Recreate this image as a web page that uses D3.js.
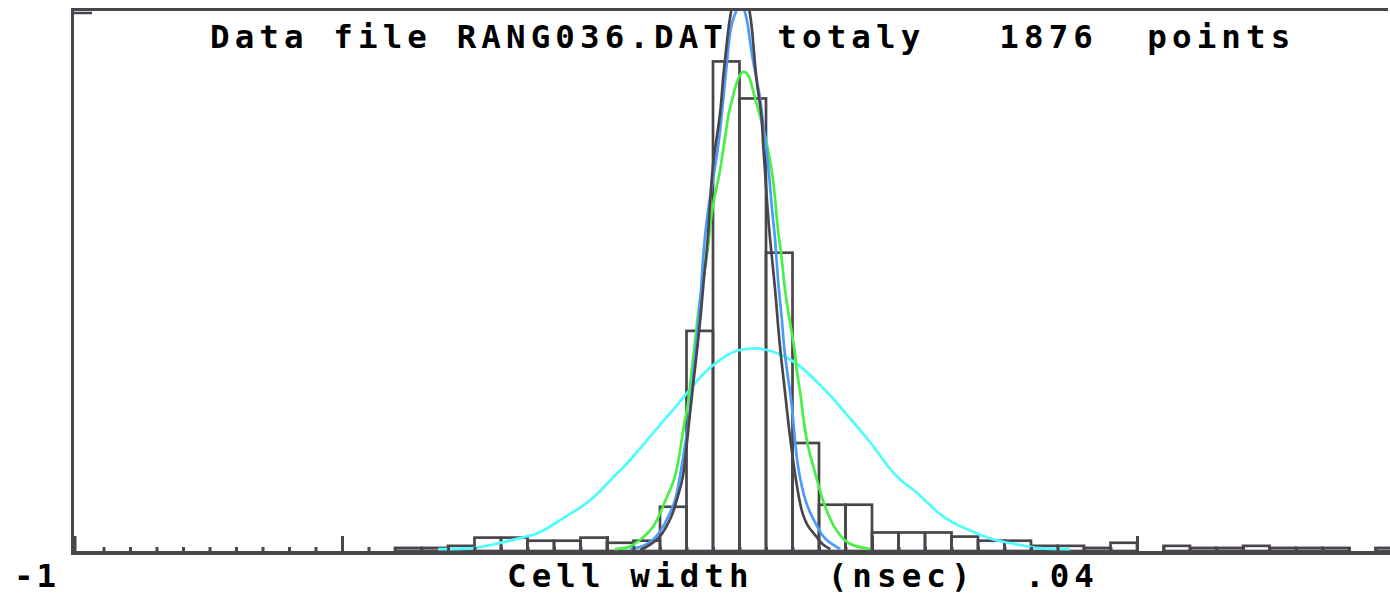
<!DOCTYPE html>
<html>
<head>
<meta charset="utf-8">
<script src="https://cdn.jsdelivr.net/npm/d3@7"></script>
<style>
  body { margin: 0; background: #fff; }
  text { font-family: "DejaVu Sans Mono", monospace; font-weight: bold; white-space: pre; }
</style>
</head>
<body>
<div id="chart"></div>
<script>
/* global d3 */

const W = 1390
const H = 595

// histogram: 50 bins of .04 nsec starting at -1
const binStart = -1
const binWidth = 0.04
const counts = [
  0, 0, 0, 0, 0, 0, 0, 0, 0, 0,
  0, 0, 3, 3, 5, 13, 13, 10, 10, 13,
  8, 10, 43, 214, 476, 440, 290, 105, 45, 45,
  18, 18, 18, 14, 10, 10, 5, 5, 3, 8,
  0, 5, 3, 3, 5, 3, 3, 3, 0, 3
]

const titleText = 'Data file RANG036.DAT  totaly   1876  points'
const axisText = 'Cell width   (nsec)  .04'
const minLabel = '-1'

// fitted curves, [nsec, count]
const curveCyan = [
  [-0.455, 1.9], [-0.399, 1.9], [-0.362, 7.8], [-0.331, 12.6], [-0.310, 15.6],
  [-0.297, 19.4], [-0.275, 28.2], [-0.254, 36.9], [-0.233, 44.7], [-0.211, 57.4],
  [-0.192, 71.0], [-0.176, 80.7], [-0.161, 91.4], [-0.143, 105.0], [-0.123, 120.6],
  [-0.100, 137.1], [-0.079, 153.6], [-0.063, 166.3], [-0.049, 176.0], [-0.034, 183.8],
  [-0.019, 190.6], [-0.004, 195.4], [0.020, 197.4], [0.038, 196.4], [0.057, 192.5],
  [0.076, 186.7], [0.096, 177.9], [0.117, 164.3], [0.140, 149.7], [0.162, 132.2],
  [0.189, 112.8], [0.212, 93.3], [0.224, 81.7], [0.245, 67.1], [0.260, 61.3],
  [0.280, 49.6], [0.298, 37.9], [0.313, 31.1], [0.328, 25.3], [0.343, 21.4],
  [0.363, 15.6], [0.388, 9.7], [0.419, 6.8], [0.449, 1.9], [0.499, 1.9]
]

const curveGreen = [
  [-0.188, 1.9], [-0.168, 2.9], [-0.161, 5.8], [-0.146, 12.6], [-0.135, 19.4],
  [-0.125, 28.2], [-0.115, 44.7], [-0.106, 57.4], [-0.097, 71.0], [-0.090, 95.3],
  [-0.084, 122.5], [-0.079, 137.1], [-0.075, 156.5], [-0.072, 177.9], [-0.067, 203.2],
  [-0.063, 229.5], [-0.057, 256.7], [-0.049, 284.9], [-0.045, 312.1], [-0.040, 338.4],
  [-0.034, 354.9], [-0.029, 370.4], [-0.025, 388.9], [-0.020, 408.4], [-0.017, 424.9],
  [-0.011, 438.5], [-0.007, 450.2], [-0.002, 459.9], [0.005, 467.7], [0.013, 463.8],
  [0.017, 457.0], [0.020, 448.2], [0.026, 434.6], [0.032, 421.0], [0.040, 399.6],
  [0.045, 385.0], [0.051, 360.7], [0.055, 334.5], [0.058, 310.2], [0.064, 285.9],
  [0.067, 260.6], [0.073, 234.3], [0.079, 212.0], [0.084, 192.5], [0.087, 171.1],
  [0.093, 149.7], [0.096, 129.3], [0.103, 101.1], [0.111, 83.6], [0.118, 66.1],
  [0.126, 48.6], [0.134, 35.0], [0.141, 25.3], [0.149, 17.5], [0.159, 9.7],
  [0.171, 4.9], [0.197, 1.9]
]

const curveBlue = [
  [-0.165, 1.9], [-0.146, 3.9], [-0.132, 9.7], [-0.122, 16.5], [-0.113, 26.3],
  [-0.105, 36.9], [-0.097, 47.6], [-0.090, 71.0], [-0.081, 107.9], [-0.075, 134.2],
  [-0.072, 156.5], [-0.067, 188.6], [-0.063, 216.8], [-0.058, 251.8], [-0.055, 287.8],
  [-0.049, 326.7], [-0.040, 360.7], [-0.034, 385.0], [-0.029, 409.3], [-0.025, 436.6],
  [-0.020, 467.7], [-0.017, 489.1], [-0.013, 511.4], [-0.005, 526.0], [0.002, 532.8],
  [0.008, 526.0], [0.013, 511.4], [0.016, 493.9], [0.022, 469.6], [0.031, 443.4],
  [0.035, 417.1], [0.040, 394.7], [0.045, 365.6], [0.049, 329.6], [0.054, 305.3],
  [0.058, 260.6], [0.064, 227.5], [0.067, 197.4], [0.073, 169.2], [0.079, 143.9],
  [0.084, 104.0], [0.088, 82.6], [0.094, 62.2], [0.100, 47.6], [0.108, 35.0],
  [0.117, 24.3], [0.125, 14.6], [0.134, 8.8], [0.152, 1.9]
]

const curveDark = [
  [-0.150, 1.0], [-0.143, 2.9], [-0.131, 7.8], [-0.120, 13.6], [-0.113, 20.4],
  [-0.106, 29.2], [-0.100, 36.9], [-0.093, 54.4], [-0.085, 69.0], [-0.079, 107.9],
  [-0.075, 132.2], [-0.070, 161.4], [-0.064, 195.4], [-0.058, 231.4], [-0.054, 265.4],
  [-0.048, 298.5], [-0.044, 344.2], [-0.040, 378.2], [-0.034, 403.5], [-0.028, 429.8],
  [-0.025, 460.9], [-0.020, 487.1], [-0.016, 516.3], [0.000, 564.9], [0.016, 526.0],
  [0.019, 506.6], [0.022, 484.2], [0.026, 453.1], [0.034, 423.9], [0.035, 399.6],
  [0.038, 375.3], [0.042, 334.5], [0.046, 302.4], [0.054, 254.7], [0.058, 219.7],
  [0.063, 185.7], [0.069, 153.6], [0.073, 127.4], [0.082, 81.7], [0.088, 57.4],
  [0.094, 37.9], [0.099, 30.1], [0.103, 24.3], [0.109, 19.4], [0.117, 13.6],
  [0.125, 5.8], [0.137, 1.9]
]

const frameColor = '#4a454c'

const x = d3.scaleLinear()
  .domain([binStart, binStart + binWidth * counts.length])
  .range([77, 1402])

const y = d3.scaleLinear()
  .domain([0, 526])
  .range([551, 10])

const svg = d3.select('#chart').append('svg')
  .attr('width', W)
  .attr('height', H)

svg.append('defs').append('clipPath')
  .attr('id', 'plot')
  .append('rect')
  .attr('x', 74).attr('y', 11)
  .attr('width', W - 74).attr('height', y(0) - 11)

// title
svg.append('text')
  .attr('x', 210)
  .attr('y', 48)
  .attr('font-size', 32.5)
  .attr('letter-spacing', 5.1)
  .attr('fill', '#000')
  .text(titleText)

// histogram bars
const bins = counts.map((c, i) => ({
  x0: binStart + i * binWidth,
  x1: binStart + (i + 1) * binWidth,
  c
}))

svg.append('g')
  .attr('clip-path', 'url(#plot)')
  .selectAll('rect')
  .data(bins.filter(d => d.c > 0))
  .join('rect')
  .attr('x', d => x(d.x0))
  .attr('y', d => y(d.c))
  .attr('width', d => x(d.x1) - x(d.x0))
  .attr('height', d => y(0) - y(d.c))
  .attr('fill', 'none')
  .attr('stroke', frameColor)
  .attr('stroke-width', 2.7)

// curves
const line = d3.line()
  .x(d => x(d[0]))
  .y(d => y(d[1]))
  .curve(d3.curveBasis)

const curves = [
  { pts: curveCyan, color: '#4dfdfd' },
  { pts: curveGreen, color: '#47ef47' },
  { pts: curveBlue, color: '#4a9cf8' },
  { pts: curveDark, color: frameColor }
]

svg.append('g')
  .attr('clip-path', 'url(#plot)')
  .selectAll('path')
  .data(curves)
  .join('path')
  .attr('d', d => line(d.pts))
  .attr('fill', 'none')
  .attr('stroke', d => d.color)
  .attr('stroke-width', 2.7)

// bin ticks along the bottom
const edges = d3.range(1, counts.length).map(i => binStart + i * binWidth)

const smallAxis = d3.axisBottom(x)
  .tickValues(edges.filter((d, i) => (i + 1) % 10 !== 0))
  .tickSize(-6)
  .tickFormat('')

const bigAxis = d3.axisBottom(x)
  .tickValues([binStart].concat(edges.filter((d, i) => (i + 1) % 10 === 0)))
  .tickSize(-17)
  .tickFormat('')

const gSmall = svg.append('g')
  .attr('transform', 'translate(0, 553)')
  .call(smallAxis)
const gBig = svg.append('g')
  .attr('transform', 'translate(0, 553)')
  .call(bigAxis)

for (const g of [gSmall, gBig]) {
  g.select('.domain').remove()
  g.selectAll('.tick line')
    .attr('stroke', frameColor)
    .attr('stroke-width', 3)
}
gBig.select('.tick').attr('transform', 'translate(75, 0)')

// frame: left side, top, bottom axis line
svg.append('path')
  .attr('d', 'M72.5,8 V553 M71,9.5 H1388')
  .attr('fill', 'none')
  .attr('stroke', frameColor)
  .attr('stroke-width', 3)

svg.append('line')
  .attr('x1', 71).attr('x2', W)
  .attr('y1', 553).attr('y2', 553)
  .attr('stroke', frameColor)
  .attr('stroke-width', 4)

// small top-left mark
svg.append('line')
  .attr('x1', 73).attr('x2', 92)
  .attr('y1', 13).attr('y2', 13)
  .attr('stroke', frameColor)
  .attr('stroke-width', 2.5)

// bottom labels
svg.append('text')
  .attr('x', 14)
  .attr('y', 587)
  .attr('font-size', 32.5)
  .attr('letter-spacing', 3)
  .attr('fill', '#000')
  .text(minLabel)

svg.append('text')
  .attr('x', 507)
  .attr('y', 587)
  .attr('font-size', 32.5)
  .attr('letter-spacing', 5.1)
  .attr('fill', '#000')
  .text(axisText)
</script>
</body>
</html>
